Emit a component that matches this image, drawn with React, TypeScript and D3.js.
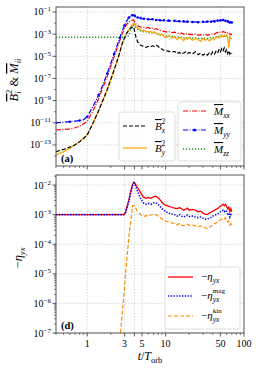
import * as d3 from "d3";
import React from "react";

// time axis of the upper panel (t / T_orb)
const T = [
  0.4, 0.5, 0.6, 0.7, 0.8, 0.9, 1.0,
  1.2, 1.4, 1.6, 1.8, 2.0, 2.2, 2.4, 2.6, 2.8, 3.0, 3.2, 3.4, 3.6,
  3.75, 3.9, 4.05, 4.2, 4.4, 4.6, 4.8, 5.0,
  5.3, 5.6, 6.0, 6.4, 6.8, 7.2, 7.6, 8.0, 8.5, 9.0, 9.5, 10,
  11, 12, 13, 14, 15, 16, 17, 18, 19, 20,
  22, 24, 26, 28, 30, 32, 34, 36, 38, 40, 42, 44, 46, 48, 50, 52, 54, 56, 58, 60, 62, 64, 66, 68, 70,
];

// log10 values, upper panel
const BX2 = [
  -13.6, -13.4, -13.2, -12.98, -12.7, -12.4, -12.1,
  -10.95, -9.9, -8.9, -8.0, -7.1, -6.25, -5.45, -4.65, -3.85, -3.3, -2.9, -2.65, -2.45,
  -2.35, -2.35, -2.8, -3.3, -3.7, -3.9, -4.0, -4.05,
  -4.1, -4.2, -4.1, -4.15, -4.05, -4.1, -4.0, -4.1, -4.3, -4.35, -4.45, -4.5,
  -4.55, -4.6, -4.55, -4.75, -4.65, -4.8, -4.7, -4.6, -4.75, -4.65,
  -4.8, -4.6, -4.85, -4.7, -4.9, -4.75, -4.9, -4.7, -4.85, -4.6, -4.8, -4.55, -4.7, -4.4, -4.6, -4.3, -4.5, -4.25, -4.6, -4.4, -4.75, -4.5, -4.8, -4.6, -4.75,
];
const BY2 = [
  -13.9, -13.6, -13.3, -13.0, -12.7, -12.4, -12.1,
  -10.95, -9.9, -8.9, -8.0, -7.1, -6.25, -5.45, -4.65, -3.85, -3.3, -2.9, -2.6, -2.35,
  -2.15, -2.0, -2.1, -2.3, -2.45, -2.55, -2.6, -2.7,
  -2.65, -2.75, -2.8, -2.75, -2.85, -2.8, -2.9, -2.95, -3.1, -3.0, -3.2, -3.3,
  -3.15, -3.35, -3.25, -3.5, -3.3, -3.4, -3.6, -3.35, -3.45, -3.3,
  -3.55, -3.4, -3.5, -3.65, -3.4, -3.55, -3.45, -3.6, -3.5, -3.35, -3.5, -3.3, -3.2, -3.35, -3.15, -3.1, -3.25, -3.1, -3.2, -3.05, -3.3, -4.2, -3.25, -3.4, -3.35,
];
const MXX = [
  -11.65, -11.6, -11.55, -11.45, -11.3, -11.1, -10.85,
  -9.85, -8.8, -7.75, -6.8, -5.9, -5.05, -4.3, -3.6, -2.95, -2.45, -2.1, -1.9, -1.8,
  -1.74, -1.72, -1.9, -2.1, -2.25, -2.3, -2.35, -2.4,
  -2.38, -2.45, -2.4, -2.5, -2.45, -2.55, -2.5, -2.6, -2.65, -2.7, -2.75, -2.8,
  -2.78, -2.85, -2.82, -2.9, -2.95, -2.9, -3.0, -2.95, -3.05, -3.0,
  -3.05, -3.0, -3.1, -3.05, -3.1, -3.0, -3.1, -3.05, -3.0, -2.95, -3.0, -2.9, -2.85, -2.9, -2.8, -2.85, -2.75, -2.8, -2.85, -2.8, -2.9, -3.0, -2.95, -3.05, -3.0,
];
const MYY = [
  -11.0, -10.95, -10.9, -10.85, -10.8, -10.72, -10.45,
  -9.45, -8.5, -7.5, -6.55, -5.65, -4.8, -4.05, -3.35, -2.7, -2.2, -1.8, -1.5, -1.35,
  -1.3, -1.27, -1.35, -1.45, -1.5, -1.55, -1.55, -1.6,
  -1.62, -1.6, -1.65, -1.68, -1.65, -1.7, -1.72, -1.7, -1.75, -1.78, -1.75, -1.8,
  -1.78, -1.82, -1.8, -1.85, -1.83, -1.88, -1.85, -1.9, -1.87, -1.85,
  -1.9, -1.88, -1.92, -1.9, -1.88, -1.92, -1.87, -1.85, -1.88, -1.82, -1.85, -1.8, -1.78, -1.82, -1.75, -1.78, -1.72, -1.75, -1.8, -1.78, -1.85, -1.9, -1.95, -1.9, -1.95,
];
const MZZ = [
  -3.28, -3.28, -3.28, -3.28, -3.28, -3.28, -3.28,
  -3.28, -3.28, -3.28, -3.28, -3.28, -3.28, -3.28, -3.28, -3.28, -3.28, -3.28, -3.1, -2.7,
  -2.4, -2.2, -2.3, -2.45, -2.55, -2.65, -2.7, -2.75,
  -2.8, -2.78, -2.85, -2.82, -2.9, -2.88, -2.95, -3.0, -3.05, -3.1, -3.12, -3.15,
  -3.2, -3.18, -3.25, -3.22, -3.3, -3.28, -3.32, -3.3, -3.35, -3.3,
  -3.35, -3.32, -3.38, -3.35, -3.4, -3.35, -3.38, -3.32, -3.35, -3.3, -3.28, -3.25, -3.2, -3.22, -3.15, -3.18, -3.12, -3.15, -3.2, -3.18, -3.25, -3.3, -3.28, -3.32, -3.3,
];

// time axis of the lower panel
const TE = [
  0.4, 1.0, 2.0, 2.9,
  3.05, 3.2, 3.4, 3.6, 3.8, 3.95, 4.1, 4.3, 4.6, 4.9, 5.2, 5.6,
  6.0, 6.5, 7.0, 7.5, 8.0, 8.5, 9.0, 9.5, 10,
  11, 12, 13, 14, 15, 16, 17, 18, 19, 20,
  22, 24, 26, 28, 30, 32, 34, 36, 38, 40, 42, 44, 46, 48, 50, 52, 54, 56, 58, 60, 62, 64, 66, 68, 70,
];
const ETA = [
  -3, -3, -3, -3,
  -2.95, -2.75, -2.5, -2.2, -1.98, -1.9, -1.95, -2.05, -2.17, -2.3, -2.4, -2.45,
  -2.42, -2.45, -2.4, -2.38, -2.42, -2.5, -2.58, -2.65, -2.68,
  -2.72, -2.75, -2.78, -2.8, -2.76, -2.8, -2.85, -2.82, -2.78, -2.85,
  -2.82, -2.85, -2.9, -2.88, -2.95, -2.98, -3.0, -2.95, -2.92, -2.88, -2.85, -2.82, -2.8, -2.75, -2.72, -2.68, -2.65, -2.7, -2.65, -2.72, -2.8, -2.75, -2.9, -2.8, -2.9,
];
const ETA_MAG = [
  -3, -3, -3, -3,
  -2.97, -2.8, -2.55, -2.25, -2.0, -1.93, -2.0, -2.15, -2.35, -2.5, -2.6, -2.65,
  -2.62, -2.65, -2.6, -2.6, -2.65, -2.72, -2.8, -2.85, -2.9,
  -2.95, -2.98, -3.0, -3.05, -3.0, -3.05, -3.08, -3.05, -3.02, -3.06,
  -3.05, -3.08, -3.1, -3.08, -3.12, -3.15, -3.15, -3.12, -3.1, -3.05, -3.02, -3.0, -2.98, -2.95, -2.9, -2.88, -2.85, -2.9, -2.85, -2.9, -2.98, -2.95, -3.08, -3.0, -3.05,
];
const ETA_KIN = [
  -30, -20, -10.5, -5.9,
  -5.2, -4.5, -3.75, -3.2, -2.7, -2.68, -2.75, -2.85, -2.95, -3.02, -3.05, -3.05,
  -3.0, -3.02, -2.98, -3.0, -3.05, -3.1, -3.15, -3.2, -3.22,
  -3.25, -3.28, -3.3, -3.35, -3.3, -3.35, -3.38, -3.35, -3.32, -3.36,
  -3.35, -3.38, -3.4, -3.38, -3.42, -3.45, -3.47, -3.42, -3.4, -3.35, -3.3, -3.28, -3.25, -3.2, -3.18, -3.15, -3.12, -3.15, -3.1, -3.18, -3.25, -3.22, -3.35, -3.3, -3.38,
];

const X_TICKS = [1, 3, 5, 10, 50, 100];
const X_GRID = [1, 3, 4, 5, 10, 50];
const TOP_EXPS = [-1, -3, -5, -7, -9, -11, -13];
const BOT_EXPS = [-2, -3, -4, -5, -6, -7];

const FONT = "Liberation Serif, DejaVu Serif, serif";

const L = 56, R = 244;
const x = d3.scaleLog().domain([0.4, 100]).range([L, R]);
const yTop = d3.scaleLog().domain([10 ** -14.9, 10 ** -0.55]).range([166, 7]);
const yBot = d3.scaleLog().domain([1e-7, 10 ** -1.66]).range([333, 175]);

type P = [number, number];
const pts = (t: number[], v: number[]): P[] => t.map((d, i) => [d, v[i]]);

const Pow = ({ px, py, e }: { px: number; py: number; e: number }) => (
  <text x={px} y={py} textAnchor="end" fontSize={10} fontFamily={FONT}>
    10<tspan dy={-4} fontSize={7}>{"\u2212" + Math.abs(e)}</tspan>
  </text>
);

const minorX: number[] = [];
[0.1, 1, 10].forEach((dec) => {
  for (let k = 2; k <= 9; k++) {
    const v = dec * k;
    if (v >= 0.4 && v <= 100 && ![3, 4, 5, 50].includes(v)) minorX.push(v);
  }
});

function Panel({ y, top, bottom, exps, minorY, showX, id }: any) {
  const [y0, y1] = y.range();
  return (
    <g>
      <defs>
        <clipPath id={id}>
          <rect x={L} y={y1} width={R - L} height={y0 - y1} />
        </clipPath>
      </defs>
      {exps.map((e: number) => (
        <line key={"gy" + e} x1={L} x2={R} y1={y(10 ** e)} y2={y(10 ** e)}
          stroke="#c8c8c8" strokeWidth={0.7} strokeDasharray="1.5,1.5" />
      ))}
      {X_GRID.map((t) => (
        <line key={"gx" + t} x1={x(t)} x2={x(t)} y1={y1} y2={y0}
          stroke="#c8c8c8" strokeWidth={0.7} strokeDasharray="1.5,1.5" />
      ))}
      <g clipPath={`url(#${id})`}>{bottom}</g>
      <rect x={L} y={y1} width={R - L} height={y0 - y1} fill="none" stroke="#555" strokeWidth={1} />
      {exps.map((e: number) => (
        <g key={"ty" + e}>
          <line x1={L - 3.5} x2={L} y1={y(10 ** e)} y2={y(10 ** e)} stroke="#333" strokeWidth={0.8} />
          <Pow px={L - 5} py={y(10 ** e) + 3.5} e={e} />
        </g>
      ))}
      {minorY.map((v: number, i: number) => (
        <line key={"my" + i} x1={L - 2} x2={L} y1={y(v)} y2={y(v)} stroke="#333" strokeWidth={0.6} />
      ))}
      {X_TICKS.concat([4]).map((t) => (
        <line key={"tx" + t} x1={x(t)} x2={x(t)} y1={y0} y2={y0 + 3.5} stroke="#333" strokeWidth={0.8} />
      ))}
      {minorX.map((t) => (
        <line key={"mx" + t} x1={x(t)} x2={x(t)} y1={y0} y2={y0 + 2} stroke="#333" strokeWidth={0.6} />
      ))}
      {showX && X_TICKS.map((t) => (
        <text key={"lx" + t} x={x(t)} y={y0 + 14} textAnchor="middle" fontSize={10} fontFamily={FONT}>{t}</text>
      ))}
      {top}
    </g>
  );
}

const OL = { textDecoration: "overline" } as React.CSSProperties;

export default function App() {
  const lt = d3.line<P>().x((d) => x(d[0])).y((d) => yTop(10 ** d[1]));
  const lb = d3.line<P>().x((d) => x(d[0])).y((d) => yBot(10 ** d[1]));
  const myy = pts(T, MYY);

  const minorTop = [-2, -4, -6, -8, -10, -12, -14].map((e) => 10 ** e);
  const minorBot: number[] = [];
  for (let e = -7; e < -1; e++) for (let k = 2; k <= 9; k++) {
    const v = k * 10 ** e;
    if (v <= 10 ** -1.66) minorBot.push(v);
  }

  const topCurves = (
    <g fill="none" strokeWidth={1.2}>
      <path d={lt(pts(T, MZZ))!} stroke="#1a8f1a" strokeDasharray="1.2,1.8" strokeWidth={1.4} />
      <path d={lt(pts(T, BY2))!} stroke="#ffa500" />
      <path d={lt(pts(T, BX2))!} stroke="#000" strokeDasharray="4,2" />
      <path d={lt(pts(T, MXX))!} stroke="#ff0000" strokeDasharray="5,1.5,1,1.5" />
      <path d={lt(myy)!} stroke="#0000ff" strokeDasharray="5,1.5,1,1.5" />
      {myy.filter((_, i) => i % 2 === 0).map((d, i) => (
        <circle key={i} cx={x(d[0])} cy={yTop(10 ** d[1])} r={1.3} fill="#0000ff" />
      ))}
    </g>
  );

  const botCurves = (
    <g fill="none">
      <path d={lb(pts(TE, ETA))!} stroke="#ff0000" strokeWidth={1.3} />
      <path d={lb(pts(TE, ETA_MAG))!} stroke="#0000ff" strokeWidth={1.6} strokeDasharray="1.3,1.5" />
      <path d={lb(pts(TE, ETA_KIN))!} stroke="#ff8c00" strokeWidth={1.2} strokeDasharray="4,2" />
    </g>
  );

  const legTop = (
    <g fontFamily={FONT}>
      <rect x={119} y={112} width={56} height={49} rx={2.5} fill="#fff" fillOpacity={0.85} stroke="#d5d5d5" strokeWidth={0.8} />
      <line x1={123} x2={147} y1={126} y2={126} stroke="#000" strokeWidth={1.2} strokeDasharray="4,2" />
      <line x1={123} x2={147} y1={148} y2={148} stroke="#ffa500" strokeWidth={1.2} />
      <text x={155} y={130} fontSize={11}>
        <tspan fontStyle="italic" style={OL}>B</tspan>
        <tspan fontSize={7.5} fontStyle="italic" dy={3}>x</tspan>
        <tspan fontSize={7.5} dx={-3.5} dy={-9}>2</tspan>
      </text>
      <text x={155} y={152} fontSize={11}>
        <tspan fontStyle="italic" style={OL}>B</tspan>
        <tspan fontSize={7.5} fontStyle="italic" dy={3}>y</tspan>
        <tspan fontSize={7.5} dx={-3.5} dy={-9}>2</tspan>
      </text>

      <rect x={178} y={102} width={63} height={59} rx={2.5} fill="#fff" fillOpacity={0.85} stroke="#d5d5d5" strokeWidth={0.8} />
      <line x1={183} x2={206} y1={111} y2={111} stroke="#ff0000" strokeWidth={1.2} strokeDasharray="5,1.5,1,1.5" />
      <line x1={183} x2={206} y1={130} y2={130} stroke="#0000ff" strokeWidth={1.2} strokeDasharray="5,1.5,1,1.5" />
      <circle cx={194.5} cy={130} r={1.5} fill="#0000ff" />
      <line x1={183} x2={206} y1={149} y2={149} stroke="#1a8f1a" strokeWidth={1.4} strokeDasharray="1.2,1.8" />
      {[["xx", 115], ["yy", 134], ["zz", 153]].map(([s, yy]) => (
        <text key={s as string} x={214} y={yy as number} fontSize={11}>
          <tspan fontStyle="italic" style={OL}>M</tspan>
          <tspan fontSize={7.5} fontStyle="italic" dy={3}>{s}</tspan>
        </text>
      ))}
      <text x={61} y={162} fontSize={10.5} fontWeight="bold">(a)</text>
    </g>
  );

  const legBot = (
    <g fontFamily={FONT}>
      <rect x={165} y={267} width={75} height={62} rx={2.5} fill="#fff" fillOpacity={0.85} stroke="#d5d5d5" strokeWidth={0.8} />
      <line x1={168} x2={193} y1={277} y2={277} stroke="#ff0000" strokeWidth={1.3} />
      <line x1={168} x2={193} y1={296} y2={296} stroke="#0000ff" strokeWidth={1.6} strokeDasharray="1.3,1.5" />
      <line x1={168} x2={193} y1={316} y2={316} stroke="#ff8c00" strokeWidth={1.2} strokeDasharray="4,2" />
      {[["", 280], ["mag", 299], ["kin", 319]].map(([s, yy]) => (
        <text key={"e" + s} x={201} y={yy as number} fontSize={11}>
          {"\u2212"}<tspan fontStyle="italic">η</tspan>
          <tspan fontSize={7.5} fontStyle="italic" dy={3}>yx</tspan>
          {s && <tspan fontSize={7} dx={-6.5} dy={-9}>{s}</tspan>}
        </text>
      ))}
      <text x={61} y={329} fontSize={10.5} fontWeight="bold">(d)</text>
    </g>
  );

  return (
    <svg width={259} height={370} style={{ display: "block", position: "absolute", left: 0, top: 0 }}>
      <rect width={259} height={370} fill="#fff" />
      <Panel id="cTop" y={yTop} exps={TOP_EXPS} minorY={minorTop} showX={false} bottom={topCurves} top={legTop} />
      <Panel id="cBot" y={yBot} exps={BOT_EXPS} minorY={minorBot} showX={true} bottom={botCurves} top={legBot} />
      <text transform="translate(18,80) rotate(-90)" textAnchor="middle" fontFamily={FONT} fontSize={12.5}>
        <tspan fontStyle="italic" style={OL}>B</tspan>
        <tspan fontSize={8.5} fontStyle="italic" dy={3}>i</tspan>
        <tspan fontSize={8.5} dx={-2.5} dy={-9}>2</tspan>
        <tspan dy={6}>{" & "}</tspan>
        <tspan fontStyle="italic" style={OL}>M</tspan>
        <tspan fontSize={8.5} fontStyle="italic" dy={3}>ii</tspan>
      </text>
      <text transform="translate(22,258) rotate(-90)" textAnchor="middle" fontFamily={FONT} fontSize={12.5}>
        {"\u2212"}<tspan fontStyle="italic">η</tspan>
        <tspan fontSize={8.5} fontStyle="italic" dy={3}>yx</tspan>
      </text>
      <text x={150} y={360} textAnchor="middle" fontFamily={FONT} fontSize={12}>
        <tspan fontStyle="italic">t</tspan>/<tspan fontStyle="italic">T</tspan>
        <tspan fontSize={8.5} dy={3}>orb</tspan>
      </text>
    </svg>
  );
}
